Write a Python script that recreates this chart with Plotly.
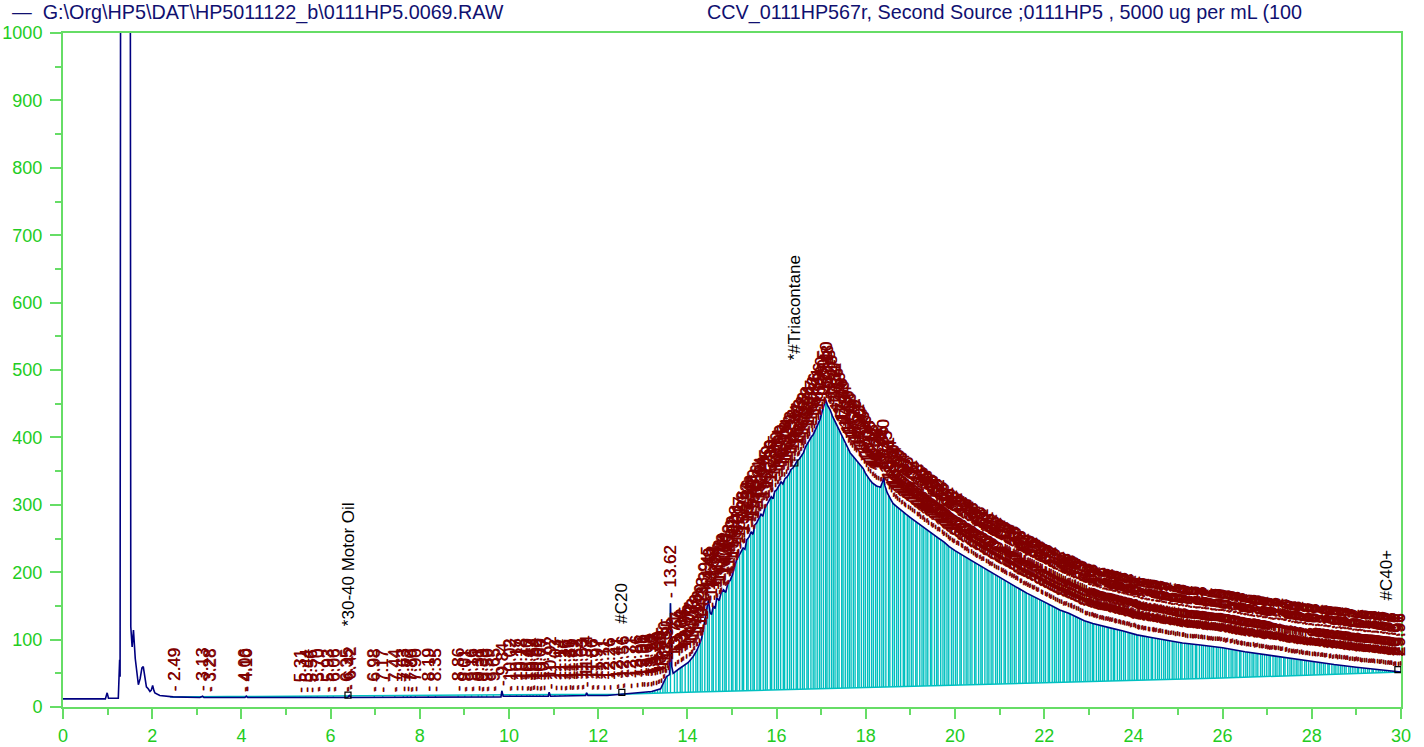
import numpy as np
import plotly.graph_objects as go

# raw chromatogram (time in min, detector response)
TRACE_T = [0.00, 0.95, 0.99, 1.02, 1.24, 1.25, 1.26, 1.27, 1.28, 1.30, 1.50, 1.52, 1.55, 1.58, 1.62,
           1.65, 1.69, 1.73, 1.77, 1.80, 1.84, 1.87, 1.91, 1.95, 1.98, 2.01, 2.04, 2.06, 2.17, 2.47,
           3.07, 3.13, 3.16, 4.08, 4.11, 4.14, 6.38, 6.42, 6.46, 8.80, 9.82, 9.84, 9.87, 10.88, 10.90,
           10.93, 11.72, 11.74, 11.77, 12.20, 12.56, 13.00, 13.20, 13.40, 13.53, 13.60, 13.62, 13.65,
           13.68, 13.80, 13.90, 14.02, 14.13, 14.22, 14.28, 14.32, 14.38, 14.43, 14.47, 14.51, 14.54,
           14.58, 14.62, 14.66, 14.71, 14.76, 14.81, 14.86, 14.91, 14.96, 15.01, 15.05, 15.10, 15.15,
           15.20, 15.25, 15.29, 15.33, 15.38, 15.43, 15.47, 15.51, 15.55, 15.60, 15.65, 15.69, 15.74,
           15.78, 15.83, 15.88, 15.92, 15.96, 16.00, 16.05, 16.10, 16.14, 16.19, 16.23, 16.28, 16.32,
           16.37, 16.41, 16.46, 16.51, 16.55, 16.60, 16.65, 16.70, 16.74, 16.78, 16.82, 16.87, 16.92,
           16.97, 17.02, 17.06, 17.10, 17.14, 17.20, 17.25, 17.30, 17.35, 17.40, 17.45, 17.50, 17.55,
           17.60, 17.65, 17.70, 17.75, 17.80, 17.85, 17.90, 17.94, 17.99, 18.04, 18.09, 18.14, 18.19,
           18.24, 18.28, 18.33, 18.37, 18.40, 18.43, 18.48, 18.55, 18.61, 18.70, 18.80, 18.90, 19.00,
           19.12, 19.25, 19.37, 19.50, 19.62, 19.75, 19.87, 20.00, 20.11, 20.25, 20.40, 20.55, 20.70,
           20.85, 21.00, 21.15, 21.30, 21.45, 21.61, 21.80, 22.00, 22.20, 22.35, 22.55, 22.75, 22.90,
           23.09, 23.30, 23.50, 23.75, 24.08, 24.40, 24.75, 25.10, 25.50, 26.00, 26.50, 27.00, 27.50,
           28.00, 28.50, 29.00, 29.50, 30.00]
TRACE_Y = [12, 12, 21, 13, 13, 43, 33, 70, 45, 2000, 2000, 119, 89, 114, 72,
           55, 33, 42, 58, 60, 41, 30, 27, 23, 25, 32, 24, 21, 17, 15,
           14, 16, 14, 14, 16, 14, 14, 17, 14, 15, 15, 24, 16, 16, 22,
           16, 17, 21, 17, 17, 19, 21, 23, 27, 45, 48, 154, 60,
           50, 56, 60, 66, 75, 85, 95, 102, 125, 146, 159, 140, 137,
           150, 146, 162, 158, 170, 174, 170, 184, 188, 196, 206, 218, 224,
           230, 236, 234, 248, 252, 260, 256, 270, 273, 280, 286, 283, 296,
           300, 306, 312, 309, 320, 322, 328, 334, 331, 339, 341, 346, 352,
           355, 359, 365, 368, 373, 377, 386, 392, 396, 401, 404, 412, 418,
           426, 438, 446, 456, 448, 441, 432, 425, 418, 410, 403, 396, 389,
           382, 377, 373, 369, 366, 361, 357, 354, 347, 341, 337, 333, 330,
           328, 327, 326, 333, 341, 328, 318, 309, 302, 297, 291, 286, 281,
           275, 269, 263, 257, 251, 245, 238, 232, 228, 222, 216, 210, 204,
           198, 192, 186, 181, 175, 169, 163, 156, 149, 144, 139, 133, 128,
           124, 120, 117, 113, 107, 103, 99, 95, 92, 88, 82, 77, 72,
           67, 63, 59, 55, 52]

# integration baseline
BASE_T = [2.40, 12.50, 14.00, 18.00, 22.00, 26.00, 30.00]
BASE_Y = [15, 19, 22, 29, 36, 43, 52]

# detected peaks (retention times)
PEAK_T = [2.49, 3.13, 3.28, 4.06, 4.10, 5.31, 5.44, 5.56, 5.70, 5.93, 6.06, 6.35, 6.42, 6.98, 7.17,
          7.44, 7.63, 7.72, 7.80, 7.90, 8.19, 8.35, 8.86, 9.01, 9.16, 9.31, 9.39, 9.50, 9.65, 9.84,
          10.02, 10.17, 10.28, 10.40, 10.47, 10.54, 10.62, 10.69, 10.77, 10.92, 11.03, 11.14, 11.26,
          11.36, 11.41, 11.52, 11.63, 11.74, 11.86, 11.97, 12.11, 12.26, 12.41, 12.56, 12.71, 12.86,
          12.96, 13.01, 13.09, 13.16, 13.22, 13.27, 13.33, 13.39, 13.45, 13.50, 13.55,
          13.62, 13.71, 13.77, 13.84, 13.88, 13.95, 14.02, 14.07, 14.13, 14.19, 14.23, 14.29, 14.33,
          14.39, 14.45, 14.49, 14.55, 14.58, 14.64, 14.70, 14.73, 14.79, 14.84, 14.87, 14.93, 14.99,
          15.02, 15.08, 15.11, 15.17, 15.23, 15.26, 15.33, 15.36, 15.42, 15.47, 15.50, 15.56, 15.61,
          15.64, 15.70, 15.75, 15.79, 15.86, 15.89, 15.95, 16.00, 16.04, 16.09, 16.15, 16.18, 16.24,
          16.29, 16.33, 16.38, 16.44, 16.47, 16.53, 16.58, 16.62, 16.68, 16.71, 16.77, 16.82, 16.86,
          16.91, 16.96, 17.00, 17.05, 17.10, 17.13, 17.18, 17.23, 17.27, 17.31, 17.36, 17.40, 17.46,
          17.49, 17.54, 17.59, 17.63, 17.67, 17.72, 17.76, 17.82, 17.85, 17.90, 17.95, 17.99, 18.04,
          18.08, 18.13, 18.17, 18.22, 18.26, 18.31, 18.36, 18.40, 18.45, 18.51, 18.54, 18.60, 18.64,
          18.69, 18.73, 18.78, 18.84, 18.87, 18.93, 18.97, 19.02, 19.06, 19.12, 19.15, 19.21, 19.26,
          19.30, 19.35, 19.39, 19.45, 19.48, 19.54, 19.59, 19.62, 19.68, 19.73, 19.77, 19.82, 19.86,
          19.92, 19.96, 20.01, 20.05, 20.11, 20.14, 20.20, 20.25, 20.29, 20.34, 20.38, 20.44, 20.47,
          20.53, 20.58, 20.61, 20.67, 20.72, 20.76, 20.81, 20.85, 20.91, 20.95, 21.00, 21.04, 21.10,
          21.13, 21.19, 21.24, 21.28, 21.33, 21.37, 21.43, 21.46, 21.52, 21.57, 21.60, 21.66, 21.71,
          21.75, 21.80, 21.84, 21.90, 21.94, 21.99, 22.03, 22.09, 22.12, 22.18, 22.23, 22.27, 22.32,
          22.36, 22.42, 22.45, 22.51, 22.56, 22.59, 22.65, 22.70, 22.74, 22.79, 22.83, 22.89, 22.93,
          22.98, 23.03, 23.08, 23.11, 23.17, 23.22, 23.26, 23.31, 23.35, 23.41, 23.44, 23.50, 23.55,
          23.58, 23.64, 23.69, 23.73, 23.78, 23.82, 23.88, 23.92, 23.97, 24.02, 24.07, 24.10, 24.16,
          24.21, 24.25, 24.30, 24.34, 24.40, 24.43, 24.49, 24.54, 24.58, 24.63, 24.68, 24.72, 24.77,
          24.81, 24.87, 24.91, 24.96, 25.01, 25.06, 25.09, 25.15, 25.20, 25.24, 25.29, 25.33, 25.39,
          25.42, 25.48, 25.53, 25.57, 25.62, 25.67, 25.71, 25.76, 25.80, 25.86, 25.90, 25.95, 26.00,
          26.05, 26.08, 26.14, 26.19, 26.23, 26.28, 26.32, 26.38, 26.41, 26.47, 26.52, 26.56, 26.61,
          26.66, 26.70, 26.75, 26.79, 26.85, 26.89, 26.94, 26.99, 27.04, 27.07, 27.13, 27.18, 27.22,
          27.27, 27.31, 27.37, 27.40, 27.46, 27.51, 27.55, 27.60, 27.65, 27.69, 27.74, 27.78, 27.84,
          27.88, 27.93, 27.98, 28.03, 28.06, 28.12, 28.17, 28.21, 28.26, 28.30, 28.36, 28.39, 28.45,
          28.50, 28.54, 28.59, 28.64, 28.68, 28.73, 28.77, 28.83, 28.87, 28.92, 28.97, 29.02, 29.05,
          29.11, 29.16, 29.20, 29.25, 29.29, 29.35, 29.38, 29.44, 29.49, 29.53, 29.58, 29.63, 29.67,
          29.72, 29.76, 29.82, 29.86, 29.91, 29.96]

# named components
COMP_NAMES = ["*30-40 Motor Oil", "#C20", "*#Triacontane", "#C40+"]
COMP_T = [6.39, 12.53, 16.41, 29.93]

TITLE_LEFT = r"—  G:\Org\HP5\DAT\HP5011122_b\0111HP5.0069.RAW"
TITLE_RIGHT = "CCV_0111HP567r, Second Source ;0111HP5 , 5000 ug per mL (100"

FONT = "Liberation Sans, Arial, sans-serif"
GREEN_LINE = "#66dd66"
GREEN_TEXT = "#22cc22"

tt = np.array(TRACE_T)
ty = np.array(TRACE_Y)
pt = np.array(PEAK_T)
py = np.interp(pt, tt, ty)
pb = np.interp(pt, BASE_T, BASE_Y)

drop_x, drop_y = [], []
for t, b, h in zip(pt, pb, py):
    drop_x += [t, t, None]
    drop_y += [b, h, None]

fig = go.Figure()
fig.add_trace(go.Scatter(x=drop_x, y=drop_y, mode="lines",
                         line=dict(color="rgb(0,192,192)", width=1.4), hoverinfo="skip"))
fig.add_trace(go.Scatter(x=BASE_T, y=BASE_Y, mode="lines",
                         line=dict(color="rgb(0,192,192)", width=1.5), hoverinfo="skip"))
fig.add_trace(go.Scatter(x=tt, y=ty, mode="lines", line=dict(color="#000080", width=1.6),
                         name="trace"))
comp_y = np.interp(COMP_T, tt, ty)
fig.add_trace(go.Scatter(x=COMP_T, y=comp_y + 3, mode="markers",
                         marker=dict(symbol="square-open", size=6, color="black",
                                     line=dict(width=1.2)), hoverinfo="skip"))

annotations = []
for t, h in zip(pt, py):
    annotations.append(dict(x=t, y=h, xref="x", yref="y", text="- %.2f" % t, textangle=-90,
                            showarrow=False, xanchor="center", yanchor="bottom", yshift=3,
                            font=dict(family=FONT, size=17, color="#800000",
                                      shadow="0.5px 0.5px 0px #800000")))
for name, t in zip(COMP_NAMES, COMP_T):
    near = ty[np.abs(tt - t) <= 0.5]
    annotations.append(dict(x=min(t, 30), y=near.max() + 100, xref="x", yref="y", text=name,
                            textangle=-90, showarrow=False,
                            xanchor="right" if t > 29.5 else "center", yanchor="bottom",
                            font=dict(family=FONT, size=17, color="black")))
annotations.append(dict(x=-0.0396, y=1, xref="paper", yref="paper", text=TITLE_LEFT,
                        showarrow=False, xanchor="left", yanchor="middle", yshift=21,
                        font=dict(family=FONT, size=19.75, color="#101070")))
annotations.append(dict(x=0.4798, y=1, xref="paper", yref="paper", text=TITLE_RIGHT,
                        showarrow=False, xanchor="left", yanchor="middle", yshift=21,
                        font=dict(family=FONT, size=19.75, color="#101070")))

axis_common = dict(showgrid=False, zeroline=False, showline=True, linecolor=GREEN_LINE,
                   linewidth=2, mirror=True, ticks="outside", tickcolor=GREEN_LINE, tickwidth=2,
                   automargin=False,
                   tickfont=dict(family=FONT, size=18, color=GREEN_TEXT))

fig.update_layout(
    width=1424, height=747,
    margin=dict(l=63, r=23, t=33, b=40),
    paper_bgcolor="white", plot_bgcolor="white",
    showlegend=False,
    annotations=annotations,
    xaxis=dict(range=[0, 30], tick0=0, dtick=2, ticklen=10, ticklabelstandoff=1,
               minor=dict(dtick=1, ticklen=6, ticks="outside", tickcolor=GREEN_LINE, tickwidth=2),
               **axis_common),
    yaxis=dict(range=[0, 1000], tick0=0, dtick=100, ticklen=11, ticklabelstandoff=4,
               minor=dict(dtick=50, ticklen=6, ticks="outside", tickcolor=GREEN_LINE, tickwidth=2),
               **axis_common),
)

# the page's default 8px body margin would shift the fixed-size figure
fig.write_html("out.html", config={"displayModeBar": False},
               post_script="document.body.style.margin='0px';")
